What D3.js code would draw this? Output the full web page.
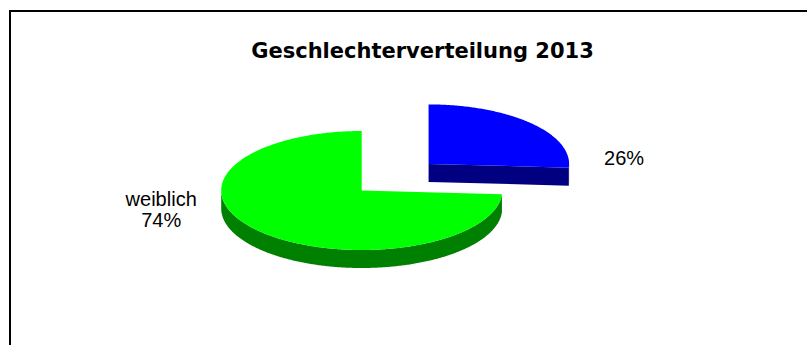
<!DOCTYPE html>
<html>
<head>
<meta charset="utf-8">
<script src="https://cdn.jsdelivr.net/npm/d3@7"></script>
<style>
  html, body { margin: 0; padding: 0; background: #ffffff; }
  svg { display: block; }
</style>
</head>
<body>
<svg id="chart" width="807" height="345"></svg>
<script>
// Data
const title = "Geschlechterverteilung 2013";
const categories = ["männlich", "weiblich"];
const shares = [26, 74];
const showCategoryName = [false, true];
const topColors = ["#0000ff", "#00ff00"];
const sideColors = ["#000080", "#008000"];
const explodeAmount = [0.653, 0];   // fraction of radius, per slice

// Layout
const W = 807, H = 345;
const cx = 361.7, cy = 190.5;       // centre of the pie's top face
const rx = 140.5, ry = 59.5;        // ellipse radii of the tilted pie
const depth = 18;                   // thickness of the pie

const svg = d3.select("#chart");

// Chart frame
svg.append("rect")
  .attr("x", 10).attr("y", 11)
  .attr("width", 830).attr("height", 360)
  .attr("fill", "#ffffff")
  .attr("stroke", "#000000")
  .attr("stroke-width", 2);

// Title
svg.append("text")
  .attr("x", 422.5).attr("y", 58.3)
  .attr("text-anchor", "middle")
  .attr("font-family", "'DejaVu Sans', Verdana, sans-serif")
  .attr("font-weight", "bold")
  .attr("font-size", 21)
  .attr("fill", "#000000")
  .text(title);

// Pie layout: angles clockwise from 12 o'clock
const arcs = d3.pie().sort(null).value(d => d)(shares)
  .map((a, i) => {
    const mid = (a.startAngle + a.endAngle) / 2;
    const k = explodeAmount[i];
    return Object.assign(a, {
      i,
      ox: k * rx * Math.sin(mid),
      oy: -k * ry * Math.cos(mid)
    });
  });

// Point on the tilted ellipse for angle a, relative radius k, vertical drop z
function pt(d, a, k, z) {
  return [cx + d.ox + k * rx * Math.sin(a), cy + d.oy - k * ry * Math.cos(a) + z];
}
function arcPoints(d, a0, a1, z) {
  const n = Math.max(2, Math.ceil(Math.abs(a1 - a0) / 0.01));
  return d3.range(n + 1).map(j => pt(d, a0 + (a1 - a0) * j / n, 1, z));
}
const line = d3.line();

const g = svg.append("g");

arcs.forEach(d => {
  // Outer wall: only the part facing the viewer (angles between 90° and 270°)
  const s = Math.max(d.startAngle, Math.PI / 2);
  const e = Math.min(d.endAngle, 3 * Math.PI / 2);
  if (e > s) {
    const pts = arcPoints(d, s, e, 0).concat(arcPoints(d, e, s, depth));
    g.append("path")
      .attr("d", line(pts) + "Z")
      .attr("fill", sideColors[d.i]);
  }
  // Radial cut faces that face the viewer
  const faces = [];
  if (Math.sin(d.endAngle) > 1e-6) faces.push(d.endAngle);
  if (Math.sin(d.startAngle) < -1e-6) faces.push(d.startAngle);
  faces.forEach(a => {
    const c0 = pt(d, 0, 0, 0), r0 = pt(d, a, 1, 0);
    const r1 = pt(d, a, 1, depth), c1 = pt(d, 0, 0, depth);
    g.append("path")
      .attr("d", line([c0, r0, r1, c1]) + "Z")
      .attr("fill", sideColors[d.i]);
  });
  // Top face
  const top = [pt(d, 0, 0, 0)].concat(arcPoints(d, d.startAngle, d.endAngle, 0));
  g.append("path")
    .attr("d", line(top) + "Z")
    .attr("fill", topColors[d.i]);
});

// Data labels
const labelFont = "'Liberation Sans', Arial, sans-serif";
arcs.forEach(d => {
  const pct = d.data + "%";
  const lines = showCategoryName[d.i] ? [categories[d.i], pct] : [pct];
  const mid = (d.startAngle + d.endAngle) / 2;
  const rightSide = Math.sin(mid) > 0;
  let x, y0;
  if (rightSide) {
    x = cx + d.ox + rx + 55;
    y0 = cy + d.oy + 1;
  } else {
    x = cx + d.ox - rx - 60;
    y0 = cy + 15.2;
  }
  const t = svg.append("text")
    .attr("x", x).attr("y", y0)
    .attr("text-anchor", "middle")
    .attr("font-family", labelFont)
    .attr("font-size", 20)
    .attr("fill", "#000000");
  lines.forEach((s, j) => {
    t.append("tspan")
      .attr("x", x)
      .attr("y", y0 + j * 21.3)
      .text(s);
  });
});
</script>
</body>
</html>
